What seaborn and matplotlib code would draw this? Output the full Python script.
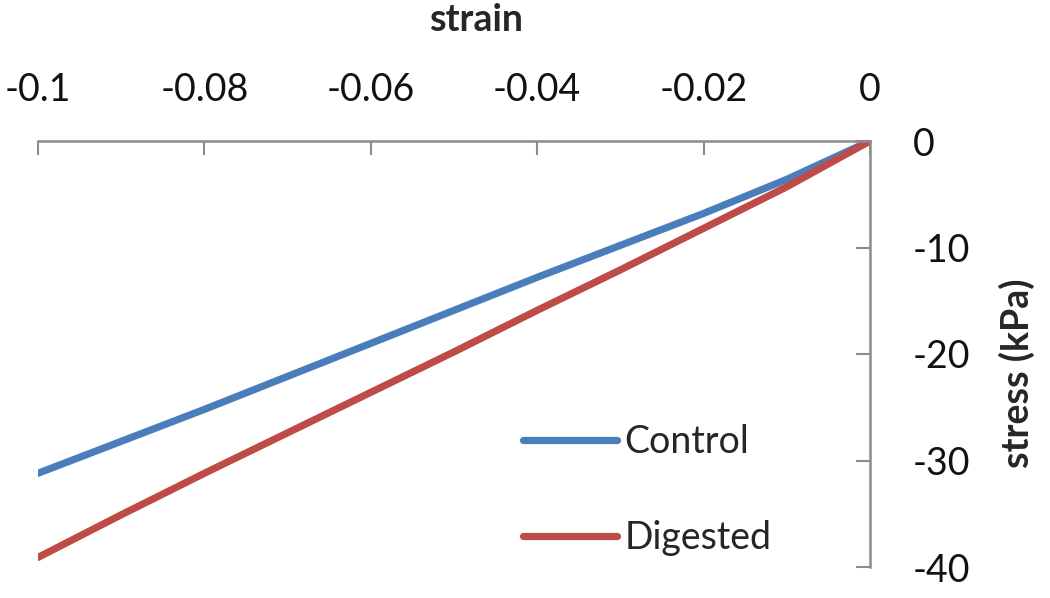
import matplotlib
matplotlib.use("Agg")
import matplotlib.pyplot as plt
import seaborn as sns
import pandas as pd

# values
strain = [0.0, -0.01, -0.02, -0.03, -0.04, -0.05, -0.06, -0.07, -0.08, -0.09, -0.10]
control = [0.0, -3.6, -6.8, -9.8, -12.8, -15.9, -19.0, -22.1, -25.2, -28.2, -31.2]
digested = [0.0, -4.3, -8.2, -12.1, -15.9, -19.8, -23.6, -27.4, -31.2, -35.1, -39.1]
series = ["Control", "Digested"]
colors = ["#4a7ebb", "#be4b48"]
x_ticks = [-0.1, -0.08, -0.06, -0.04, -0.02, 0]
x_tick_labels = ["-0.1", "-0.08", "-0.06", "-0.04", "-0.02", "0"]
y_ticks = [0, -10, -20, -30, -40]
y_tick_labels = ["0", "-10", "-20", "-30", "-40"]

df = pd.DataFrame({
    "strain": strain * 2,
    "stress": control + digested,
    "series": [series[0]] * len(strain) + [series[1]] * len(strain),
})

sns.set_style("white")
plt.rcParams["font.family"] = ["Lato", "DejaVu Sans"]
plt.rcParams["axes.unicode_minus"] = False

fig = plt.figure(figsize=(10.5, 5.98), dpi=100)
ax = fig.add_axes([38 / 1050, 1 - 567 / 598, (870 - 38) / 1050, (567 - 141) / 598])

sns.lineplot(data=df, x="strain", y="stress", hue="series", palette=colors,
             linewidth=5.2, ax=ax, sort=False, legend=False)

ax.set_xlim(-0.1, 0)
ax.set_ylim(-40, 0)

# x axis on top, y axis on the right
for side in ["left", "bottom"]:
    ax.spines[side].set_visible(False)
for side in ["top", "right"]:
    ax.spines[side].set_color("#8c8c8c")
    ax.spines[side].set_linewidth(1.8)

ax.xaxis.tick_top()
ax.yaxis.tick_right()
ax.set_xticks(x_ticks)
ax.set_xticklabels(x_tick_labels)
ax.set_yticks(y_ticks)
ax.set_yticklabels(y_tick_labels)
ax.tick_params(axis="x", direction="in", length=10, width=1.5, color="#8c8c8c",
               labelsize=27, pad=24, top=True, bottom=False, labelcolor="#111111")
ax.tick_params(axis="y", direction="in", length=10, width=1.5, color="#8c8c8c",
               labelsize=27, pad=31, right=True, left=False, labelcolor="#111111")

ax.xaxis.set_label_position("top")
ax.set_xlabel("strain", fontsize=27, fontweight="bold", va="center", ha="center")
ax.xaxis.set_label_coords(0.526, 1.285)
ax.yaxis.set_label_position("right")
ax.set_ylabel("stress (kPa)", fontsize=27, fontweight="bold", rotation=90,
              va="center", ha="center")
ax.yaxis.set_label_coords(1.177, 0.455)

handles = [plt.Line2D([], [], color=c, linewidth=5.2) for c in colors]
ax.legend(handles, series, loc="center left", bbox_to_anchor=(523 / 1050, 1 - 490 / 598),
          bbox_transform=fig.transFigure, frameon=False, fontsize=27,
          handlelength=2.5, handletextpad=0.2, labelspacing=1.6,
          borderpad=0, borderaxespad=0)

fig.savefig("out.png", dpi=100)
